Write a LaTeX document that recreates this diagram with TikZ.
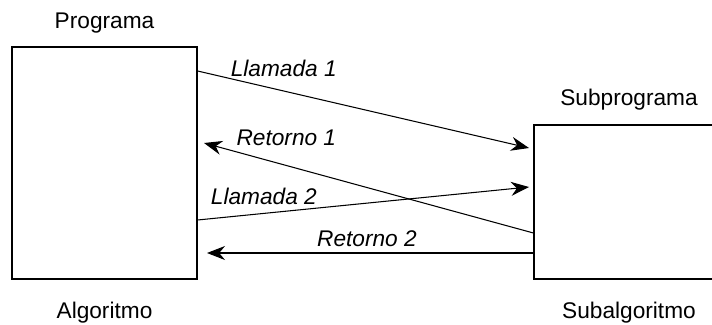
\documentclass[tikz,border=0pt]{standalone}
\usepackage{fontspec}
\setmainfont{Liberation Sans}
\usetikzlibrary{arrows.meta,positioning}
\tikzset{ar/.style={-{Stealth[length=0.36cm,width=0.28cm]},line width=0.6pt}}
\tikzstyle{blk}=[draw, line width=0.7pt, inner sep=0pt]
\tikzstyle{lbl}=[font=\fontsize{12.9}{15}\selectfont\itshape]

\begin{document}
\begin{tikzpicture}[x=0.02cm,y=-0.02cm,font=\fontsize{12.9}{15}\selectfont]
      \useasboundingbox (0,0) rectangle (712,324);
      \clip (0,0) rectangle (712,324);
      \node [blk, minimum width=3.7cm, minimum height=4.64cm] (prog) at (104.5,163) {};
      \node [blk, minimum width=3.8cm, minimum height=3.08cm] (sub) at (629,202) {};
      \node [above=0.13cm of prog] (progname) {Programa};
      \node [below=0.33cm of prog] (algname) {Algoritmo};
      \node [above=0.16cm of sub] (subname) {Subprograma};
      \node [below=0.33cm of sub] (subalgname) {Subalgoritmo};

      % ends of the calls and returns
      \coordinate (c1) at (prog.east |- 0,71);
      \coordinate (c1end) at (529,148);
      \coordinate (r1) at (sub.west |- 0,233);
      \coordinate (r1end) at (204,143);
      \coordinate (c2) at (prog.east |- 0,220);
      \coordinate (c2end) at (529,187);
      \coordinate (r2) at (sub.west |- 0,253);
      \coordinate (r2end) at (207,253);

      \draw[ar] (c1) -- node[lbl, pos=0.26, above=0.16cm] {Llamada 1} (c1end);
      \draw[ar] (r1) -- node[lbl, pos=0.75, above=0.26cm] {Retorno 1} (r1end);
      \draw[ar] (c2) -- node[lbl, pos=0.2, above=0.04cm] {Llamada 2} (c2end);
      \draw[ar] (r2) -- node[lbl, pos=0.51, above=0cm] {Retorno 2} (r2end);
    \end{tikzpicture}
\end{document}
